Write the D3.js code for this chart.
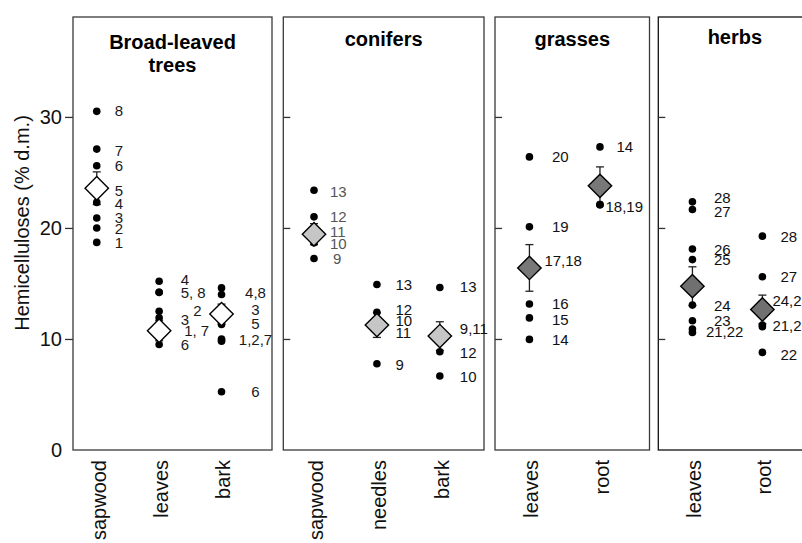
<!DOCTYPE html>
<html>
<head>
<meta charset="utf-8">
<script src="https://cdn.jsdelivr.net/npm/d3@7"></script>
<style>
  body { margin: 0; background: #fff; }
  svg { display: block; }
  text { font-family: "Liberation Sans", Arial, Helvetica, sans-serif; }
</style>
</head>
<body>
<svg id="chart" width="802" height="543"></svg>
<script>
// ---- data ----
const groupTitles = [["Broad-leaved", "trees"], ["conifers"], ["grasses"], ["herbs"]];
const categories = [
  ["sapwood", "leaves", "bark"],
  ["sapwood", "needles", "bark"],
  ["leaves", "root"],
  ["leaves", "root"]
];
const yTickValues = [0, 10, 20, 30];
const yTitle = "Hemicelluloses (% d.m.)";

// individual samples (% d.m.)
const sampleValues = [
  [
    [30.5, 27.1, 25.6, 23.5, 22.3, 20.9, 20.0, 18.7],
    [15.2, 14.2, 14.2, 12.5, 11.9, 10.7, 10.7, 9.5],
    [14.6, 14.0, 12.5, 11.3, 10.0, 9.9, 9.8, 5.25]
  ],
  [
    [23.4, 21.0, 19.6, 18.66, 17.25],
    [14.9, 12.4, 11.5, 10.8, 7.77],
    [14.64, 10.5, 10.3, 8.85, 6.66]
  ],
  [
    [26.4, 20.1, 16.6, 16.3, 13.15, 11.9, 9.96],
    [27.3, 22.1, 22.1]
  ],
  [
    [22.35, 21.66, 18.1, 17.15, 13.05, 11.64, 10.89, 10.59],
    [19.26, 15.6, 12.9, 12.6, 12.4, 11.25, 11.1, 8.79]
  ]
];

// group means and standard errors
const meanValues = [
  [23.58, 10.74, 12.24],
  [19.44, 11.25, 10.26],
  [16.4, 23.79],
  [14.76, 12.66]
];
const seValues = [
  [1.47, 0.9, 0.9],
  [0.95, 1.11, 1.29],
  [2.1, 1.71],
  [1.74, 1.29]
];

// sample numbers written beside the points: [text, value level]
const pointLabels = [
  [
    [["8", 30.54], ["7", 27.0], ["6", 25.6], ["5", 23.4], ["4", 22.2], ["3", 20.9], ["2", 19.9], ["1", 18.66]],
    [["4", 15.36], ["5, 8", 14.16], ["2", 12.6], ["3", 11.79], ["1, 7", 10.77], ["6", 9.45]],
    [["4,8", 14.2], ["3", 12.66], ["5", 11.34], ["1,2,7", 9.9], ["6", 5.25]]
  ],
  [
    [["13", 23.3], ["12", 21.0], ["11", 19.7], ["10", 18.6], ["9", 17.25]],
    [["13", 14.9], ["12", 12.69], ["10", 11.64], ["11", 10.56], ["9", 7.7]],
    [["13", 14.7], ["9,11", 10.95], ["12", 8.8], ["10", 6.6]]
  ],
  [
    [["20", 26.4], ["19", 20.1], ["17,18", 17.1], ["16", 13.2], ["15", 11.76], ["14", 9.9]],
    [["14", 27.3], ["18,19", 21.9]]
  ],
  [
    [["28", 22.7], ["27", 21.45], ["26", 18.06], ["25", 17.16], ["24", 13.05], ["23", 11.67], ["21,22", 10.65]],
    [["28", 19.26], ["27", 15.6], ["24,25,26", 13.5], ["21,23", 11.2], ["22", 8.6]]
  ]
];

// ---- layout ----
const svg = d3.select("#chart");
const plotTop = 17, plotBottom = 450;
const panels = [
  { x0: 73, x1: 272, align: 0.32, fill: "#ffffff", frame: "#3a3a3a", labelColor: ["#1a1a1a", "#1a1a1a", "#1a1a1a"], titleY: 49 },
  { x0: 283.3, x1: 484, align: 0.41, fill: "#c6c6c6", frame: "#3a3a3a", labelColor: ["#555", "#111", "#111"], titleY: 46 },
  { x0: 495, x1: 649.5, align: 0.41, fill: "#787878", frame: "#3a3a3a", labelColor: ["#111", "#111"], titleY: 46 },
  { x0: 658.3, x1: 811.5, align: 0.41, fill: "#707070", frame: "#111", labelColor: ["#111", "#111"], titleY: 44 }
];
// label offsets to the right of each column of points
const labelDx = [[18, 21.5, 34], [16, 18.5, 20], [22.5, 16.5], [21.5, 18]];
const labelAnchor = [["start", "start", "middle"], ["start", "start", "start"], ["start", "start"], ["start", "start"]];
const labelNudge = {
  "0-1-2": 34, "0-1-1, 7": 25, "1-0-9": 19, "2-0-17,18": 15, "2-1-18,19": 5.5,
  "3-0-21,22": 13.5, "3-1-24,25,26": 10, "3-1-21,23": 10
};

const y = d3.scaleLinear().domain([0, 39]).range([plotBottom, plotTop]);

const diamond = d3.symbol().type(d3.symbolSquare).size(274);

panels.forEach((p, pi) => {
  const g = svg.append("g");
  const x = d3.scalePoint()
    .domain(categories[pi])
    .range([p.x0, p.x1])
    .padding(0.595)
    .align(p.align);

  // frame
  g.append("rect")
    .attr("x", p.x0).attr("y", plotTop)
    .attr("width", p.x1 - p.x0).attr("height", plotBottom - plotTop)
    .attr("fill", "none").attr("stroke", p.frame).attr("stroke-width", 1.3);

  // y ticks
  if (pi === 0) {
    const ax = g.append("g")
      .attr("transform", `translate(${p.x0},0)`)
      .call(d3.axisLeft(y).tickValues(yTickValues).tickSize(8).tickPadding(3));
    ax.select(".domain").remove();
    ax.selectAll(".tick line").attr("stroke", "#333").attr("stroke-width", 1.3)
      .filter(d => d === 0).remove();
    ax.selectAll(".tick text").attr("font-size", 20).attr("fill", "#111")
      .attr("font-family", '"Liberation Sans", Arial, sans-serif');
  } else {
    const ax = g.append("g")
      .attr("transform", `translate(${p.x0},0)`)
      .call(d3.axisRight(y).tickValues(yTickValues.filter(v => v > 0)).tickSize(7).tickFormat(""));
    ax.select(".domain").remove();
    ax.selectAll(".tick line").attr("stroke", "#333").attr("stroke-width", 1.3);
  }

  // category labels
  const bx = g.append("g")
    .attr("transform", `translate(0,${plotBottom})`)
    .call(d3.axisBottom(x).tickSize(0));
  bx.select(".domain").remove();
  bx.selectAll(".tick text")
    .attr("font-size", 20).attr("fill", "#111")
    .attr("font-family", '"Liberation Sans", Arial, sans-serif')
    .attr("text-anchor", "end")
    .attr("transform", "rotate(-90)")
    .attr("x", -10).attr("y", 0).attr("dy", "0.42em");

  // title
  const t = g.append("text")
    .attr("text-anchor", "middle")
    .attr("font-size", 20).attr("font-weight", "bold").attr("fill", "#000");
  groupTitles[pi].forEach((line, li) => {
    t.append("tspan")
      .attr("x", (p.x0 + p.x1) / 2)
      .attr("y", p.titleY + li * 23)
      .text(line);
  });

  categories[pi].forEach((cat, ci) => {
    const cx = x(cat);
    const m = meanValues[pi][ci], se = seValues[pi][ci];

    // standard error bar
    const eb = g.append("g").attr("stroke", "#222").attr("stroke-width", 1.3);
    eb.append("line").attr("x1", cx).attr("x2", cx).attr("y1", y(m - se)).attr("y2", y(m + se));
    [m - se, m + se].forEach(v => {
      eb.append("line").attr("x1", cx - 4).attr("x2", cx + 4).attr("y1", y(v)).attr("y2", y(v));
    });

    // samples
    g.selectAll(null)
      .data(sampleValues[pi][ci])
      .join("circle")
      .attr("cx", cx).attr("cy", d => y(d))
      .attr("r", 3.8).attr("fill", "#000");

    // mean
    g.append("path")
      .attr("d", diamond())
      .attr("transform", `translate(${cx},${y(m)}) rotate(45)`)
      .attr("fill", p.fill).attr("stroke", "#000").attr("stroke-width", 1.4);

    // sample numbers
    g.selectAll(null)
      .data(pointLabels[pi][ci])
      .join("text")
      .attr("x", d => {
        const k = `${pi}-${ci}-${d[0]}`;
        return cx + (k in labelNudge ? labelNudge[k] : labelDx[pi][ci]);
      })
      .attr("y", d => y(d[1]))
      .attr("dy", "0.36em")
      .attr("text-anchor", labelAnchor[pi][ci])
      .attr("font-size", 15)
      .attr("fill", p.labelColor[ci])
      .text(d => d[0]);
  });
});

// y axis title
svg.append("text")
  .attr("transform", `translate(22,223) rotate(-90)`)
  .attr("text-anchor", "middle")
  .attr("dy", "0.35em")
  .attr("font-size", 20)
  .attr("fill", "#111")
  .text(yTitle);
</script>
</body>
</html>
